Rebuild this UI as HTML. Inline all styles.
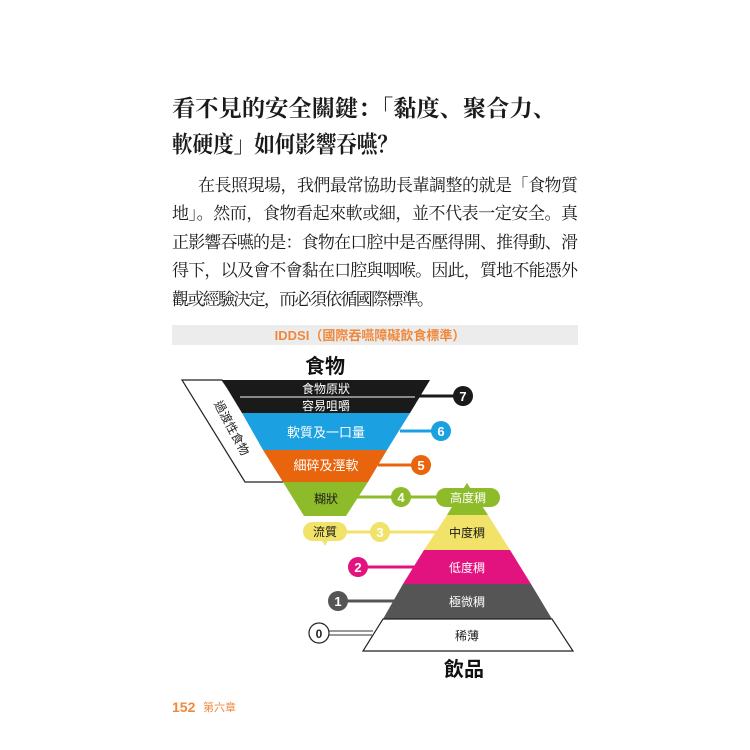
<!DOCTYPE html>
<html><head><meta charset="utf-8"><style>
html,body{margin:0;padding:0;background:#fff;}
svg{display:block;}
.serif{font-family:"Liberation Serif","Noto Serif CJK SC",serif;}
.sans{font-family:"Liberation Sans","Noto Sans CJK TC",sans-serif;}
</style></head><body>
<svg width="750" height="750" viewBox="0 0 750 750" xmlns="http://www.w3.org/2000/svg">
<rect width="750" height="750" fill="#fff"/>
<g class="serif" fill="#1a1a1a">
<text x="172" y="116" font-size="23" font-weight="bold" textLength="384" lengthAdjust="spacingAndGlyphs">看不見的安全關鍵：「黏度、聚合力、</text>
<text x="172" y="152" font-size="23" font-weight="bold" textLength="226" lengthAdjust="spacingAndGlyphs">軟硬度」如何影響吞嚥？</text>
<g font-size="17">
<text x="198" y="191" textLength="380" lengthAdjust="spacing">在長照現場，我們最常協助長輩調整的就是「食物質</text>
<text x="172" y="219" textLength="406" lengthAdjust="spacing">地」。然而，食物看起來軟或細，並不代表一定安全。真</text>
<text x="172" y="248" textLength="406" lengthAdjust="spacing">正影響吞嚥的是：食物在口腔中是否壓得開、推得動、滑</text>
<text x="172" y="276" textLength="406" lengthAdjust="spacing">得下，以及會不會黏在口腔與咽喉。因此，質地不能憑外</text>
<text x="172" y="305" textLength="262" lengthAdjust="spacing">觀或經驗決定，而必須依循國際標準。</text>
</g>
</g>
<g class="sans">
<rect x="172" y="325" width="406" height="20" fill="#ececec"/>
<text x="370" y="340" font-size="13" font-weight="bold" fill="#f0883c" text-anchor="middle">IDDSI（國際吞嚥障礙飲食標準）</text>
<text x="325" y="373" font-size="20" font-weight="bold" fill="#111" text-anchor="middle">食物</text>
<!-- parallelogram -->
<polygon points="182,380 222,380 295,482 245,482" fill="#fff" stroke="#222" stroke-width="1.2"/>
<text transform="translate(228,430) rotate(62)" font-size="12" fill="#222" text-anchor="middle">過渡性食物</text>
<!-- inverted triangle -->
<polygon points="222,380 430,380 410,413 242,413" fill="#1a1a1a"/>
<line x1="240" y1="397" x2="415" y2="397" stroke="#ccc" stroke-width="1.2"/>
<polygon points="242,413 410,413 387,450 263,450" fill="#1ba1e2"/>
<polygon points="263,450 387,450 368,482 283,482" fill="#e9650d"/>
<polygon points="283,482 368,482 346,516 304,516" fill="#8dbb2a"/>
<polygon points="314,525 336,525 325,546" fill="#f1e36a"/>
<text x="326" y="393" font-size="12" fill="#fff" text-anchor="middle">食物原狀</text>
<text x="326" y="410" font-size="12" fill="#fff" text-anchor="middle">容易咀嚼</text>
<text x="326" y="437" font-size="13" fill="#fff" text-anchor="middle">軟質及一口量</text>
<text x="326" y="470" font-size="13" fill="#fff" text-anchor="middle">細碎及溼軟</text>
<text x="326" y="503" font-size="12" fill="#1a1a1a" text-anchor="middle">糊狀</text>
<!-- connectors -->
<line x1="416" y1="396" x2="463" y2="396" stroke="#1a1a1a" stroke-width="3"/>
<circle cx="463" cy="396" r="10" fill="#1a1a1a"/>
<text x="463" y="401" font-size="13" font-weight="bold" fill="#fff" text-anchor="middle">7</text>
<line x1="400" y1="431" x2="441" y2="431" stroke="#1ba1e2" stroke-width="3"/>
<circle cx="441" cy="431" r="10" fill="#1ba1e2"/>
<text x="441" y="436" font-size="13" font-weight="bold" fill="#fff" text-anchor="middle">6</text>
<line x1="378" y1="465" x2="421" y2="465" stroke="#e9650d" stroke-width="3"/>
<circle cx="421" cy="465" r="10" fill="#e9650d"/>
<text x="421" y="470" font-size="13" font-weight="bold" fill="#fff" text-anchor="middle">5</text>
<line x1="355" y1="497" x2="440" y2="497" stroke="#8dbb2a" stroke-width="3"/>
<circle cx="401" cy="497" r="10" fill="#8dbb2a"/>
<text x="401" y="502" font-size="13" font-weight="bold" fill="#fff" text-anchor="middle">4</text>
<!-- pyramid -->
<polygon points="467,483 478,500 456,500" fill="#8dbb2a"/>
<polygon points="456,500 478,500 488,515 447,515" fill="#8dbb2a"/>
<polygon points="447,515 488,515 510,550 424,550" fill="#f1e36a"/>
<polygon points="424,550 510,550 531,584 403,584" fill="#e2127f"/>
<polygon points="403,584 531,584 552,619 383,619" fill="#555"/>
<polygon points="383,619 552,619 573,651 363,651" fill="#fff" stroke="#222" stroke-width="1.2"/>
<rect x="436" y="488" width="64" height="19" rx="9.5" fill="#8dbb2a"/>
<text x="468" y="502" font-size="12" fill="#fff" text-anchor="middle">高度稠</text>
<line x1="335" y1="532" x2="440" y2="532" stroke="#f1e36a" stroke-width="3"/>
<rect x="303" y="522" width="44" height="19" rx="9.5" fill="#f1e36a"/>
<text x="325" y="536" font-size="12" fill="#1a1a1a" text-anchor="middle">流質</text>
<circle cx="380" cy="532" r="10" fill="#f1e36a"/>
<text x="380" y="537" font-size="13" font-weight="bold" fill="#fff" text-anchor="middle">3</text>
<text x="467" y="537" font-size="12" fill="#1a1a1a" text-anchor="middle">中度稠</text>
<line x1="358" y1="567" x2="420" y2="567" stroke="#e2127f" stroke-width="3"/>
<circle cx="358" cy="567" r="10" fill="#e2127f"/>
<text x="358" y="572" font-size="13" font-weight="bold" fill="#fff" text-anchor="middle">2</text>
<text x="467" y="572" font-size="12" fill="#fff" text-anchor="middle">低度稠</text>
<line x1="338" y1="601" x2="400" y2="601" stroke="#555" stroke-width="3"/>
<circle cx="338" cy="601" r="10" fill="#555"/>
<text x="338" y="606" font-size="13" font-weight="bold" fill="#fff" text-anchor="middle">1</text>
<text x="467" y="606" font-size="12" fill="#fff" text-anchor="middle">極微稠</text>
<line x1="329" y1="631" x2="373" y2="631" stroke="#333" stroke-width="1"/>
<line x1="329" y1="635" x2="372" y2="635" stroke="#333" stroke-width="1"/>
<circle cx="319" cy="633" r="10" fill="#fff" stroke="#222" stroke-width="1.2"/>
<text x="319" y="638" font-size="12" font-weight="bold" fill="#222" text-anchor="middle">0</text>
<text x="467" y="640" font-size="12" fill="#222" text-anchor="middle">稀薄</text>
<text x="464" y="676" font-size="20" font-weight="bold" fill="#111" text-anchor="middle">飲品</text>
<!-- footer -->
<text x="172" y="712" font-size="14" font-weight="bold" fill="#f0883c">152</text>
<text x="203" y="711" font-size="11" fill="#f0883c">第六章</text>
</g>
</svg>
</body></html>
